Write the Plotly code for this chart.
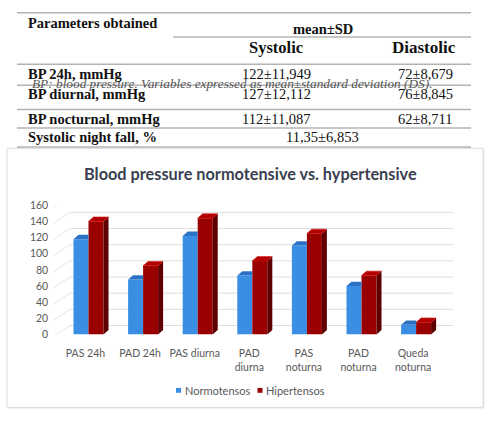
import plotly.graph_objects as go

# ---------------- data ----------------
categories = ["PAS 24h", "PAD 24h", "PAS diurna", "PAD<br>diurna", "PAS<br>noturna", "PAD<br>noturna", "Queda<br>noturna"]
normotensos = [118, 68, 122, 73, 110, 60, 12]
hipertensos = [140, 85, 144, 91, 125, 73, 15]
y_ticks = [0, 20, 40, 60, 80, 100, 120, 140, 160]

table_rows = ["BP 24h, mmHg", "BP diurnal, mmHg", "BP nocturnal, mmHg", "Systolic night fall, %"]
systolic_vals = ["122±11,949", "127±12,112", "112±11,087"]
diastolic_vals = ["72±8,679", "76±8,845", "62±8,711"]
night_fall_val = "11,35±6,853"
caption = "BP: blood pressure. Variables expressed as mean±standard deviation (DS)."

# ---------------- layout constants (pixels) ----------------
W, H = 494, 426
def px(x):
    return x / W
def py(y):
    return 1 - y / H

x_left, x_right = 61.2, 443.4          # x-axis domain in px
y_zero, y_top = 338.0, 205.0           # px of 0 and 160
cat_px = (x_right - x_left) / len(categories)
unit_px = (y_zero - y_top) / 160.0
bar_w = 15.0 / cat_px                  # bar width in category units
dx = 5.0 / cat_px                      # 3D depth in x units
dy = 4.5 / unit_px                     # 3D depth in y units

C_N_FRONT = "#3a8ee4"
C_N_TOP = "#2c72c4"
C_H_FRONT = "#990000"
C_H_TOP = "#b30000"
C_H_SIDE = "#5e0000"
GRAY = "#595959"

xs = list(range(len(categories)))

fig = go.Figure()
fig.add_trace(go.Bar(x=xs, y=normotensos, name="Normotensos", width=bar_w, offset=-bar_w,
                     marker=dict(color=C_N_FRONT, line=dict(width=0)), showlegend=False))
fig.add_trace(go.Bar(x=xs, y=hipertensos, name="Hipertensos", width=bar_w, offset=0,
                     marker=dict(color=C_H_FRONT, line=dict(width=0)), showlegend=False))

shapes = []
# chart box
shapes.append(dict(type="rect", xref="paper", yref="paper", x0=px(8.5), x1=px(484.5), y0=py(414.5), y1=py(148),
                   fillcolor="#ececec", line=dict(width=0), layer="below"))
shapes.append(dict(type="rect", xref="paper", yref="paper", x0=px(7), x1=px(483), y0=py(413), y1=py(146.5),
                   fillcolor="white", line=dict(color="#dcdcdc", width=1), layer="below"))

# back-wall gridlines (offset in pixels behind the bars)
for v in y_ticks:
    shapes.append(dict(type="line", xref="paper", yref="y", ysizemode="pixel", yanchor=v,
                       x0=px(70), x1=px(453), y0=9, y1=9,
                       line=dict(color="#dedede", width=1), layer="below"))
    shapes.append(dict(type="line", xref="paper", yref="y", ysizemode="pixel", yanchor=v,
                       x0=px(53), x1=px(70), y0=-2, y1=9,
                       line=dict(color="#e6e6e6", width=1), layer="below"))

# 3D faces of bars
for i, (vn, vh) in enumerate(zip(normotensos, hipertensos)):
    l, r = i - bar_w, i
    shapes.append(dict(type="path", xref="x", yref="y", layer="above",
                       path=f"M{l},{vn} L{l+dx},{vn+dy} L{r},{vn+dy} L{r},{vn} Z",
                       fillcolor=C_N_TOP, line=dict(width=0)))
    l, r = i, i + bar_w
    shapes.append(dict(type="path", xref="x", yref="y", layer="above",
                       path=f"M{r},0 L{r+dx},{dy} L{r+dx},{vh+dy} L{r},{vh} Z",
                       fillcolor=C_H_SIDE, line=dict(width=0)))
    shapes.append(dict(type="path", xref="x", yref="y", layer="above",
                       path=f"M{l},{vh} L{l+dx},{vh+dy} L{r+dx},{vh+dy} L{r},{vh} Z",
                       fillcolor=C_H_TOP, line=dict(color="#d01010", width=0.6)))

# legend squares
shapes.append(dict(type="rect", xref="paper", yref="paper", x0=px(176), x1=px(181), y0=py(398), y1=py(393),
                   fillcolor=C_N_FRONT, line=dict(width=0)))
shapes.append(dict(type="rect", xref="paper", yref="paper", x0=px(257.5), x1=px(262.5), y0=py(398), y1=py(393),
                   fillcolor=C_H_FRONT, line=dict(width=0)))

# table lines
LINE = dict(color="#b4b4b4", width=1.5)
for yy, x0 in [(7, 17), (32, 173), (60, 17), (81.5, 17), (106.5, 17), (125.5, 17), (145, 17)]:
    shapes.append(dict(type="line", xref="paper", yref="paper", x0=px(x0), x1=px(471), y0=py(yy), y1=py(yy),
                       line=LINE))

ann = []
SERIF = "Liberation Serif"
def txt(x, y, s, size=14.5, bold=False, italic=False, xanchor="center", color="#111111", family=SERIF):
    if bold:
        s = f"<b>{s}</b>"
    if italic:
        s = f"<i>{s}</i>"
    ann.append(dict(x=px(x), y=py(y), xref="paper", yref="paper", text=s, showarrow=False,
                    xanchor=xanchor, yanchor="middle", font=dict(family=family, size=size, color=color)))

txt(26, 17, "Parameters obtained", bold=True, xanchor="left")
txt(322.5, 24, "mean±SD", bold=True)
txt(275.5, 43, "Systolic", size=16.5, bold=True)
txt(424, 43, "Diastolic", size=17, bold=True)
row_y = [70, 91, 116, 134.5]
for lbl, yy in zip(table_rows, row_y):
    txt(26, yy, lbl, bold=True, xanchor="left")
for v, yy in zip(systolic_vals, row_y):
    txt(276.5, yy, v)
for v, yy in zip(diastolic_vals, row_y):
    txt(425, yy, v, size=14.5)
txt(322, row_y[3], night_fall_val)
txt(30, 79.5, caption, size=13.3, italic=True, xanchor="left", color="#555555")

SANS = "Lato"
ann.append(dict(x=px(250), y=py(172), xref="paper", yref="paper", showarrow=False, xanchor="center", yanchor="middle",
                text="<b>Blood pressure normotensive vs. hypertensive</b>",
                font=dict(family=SANS, size=16.3, color="#3a3f4f")))
ann.append(dict(x=px(182.5), y=py(395.5), xref="paper", yref="paper", showarrow=False, xanchor="left", yanchor="middle",
                text="Normotensos", font=dict(family=SANS, size=11, color=GRAY)))
ann.append(dict(x=px(264), y=py(395.5), xref="paper", yref="paper", showarrow=False, xanchor="left", yanchor="middle",
                text="Hipertensos", font=dict(family=SANS, size=11, color=GRAY)))

fig.update_layout(
    width=W, height=H, margin=dict(l=0, r=0, t=0, b=0),
    paper_bgcolor="white", plot_bgcolor="rgba(0,0,0,0)",
    barmode="overlay", showlegend=False,
    shapes=shapes, annotations=ann,
    xaxis=dict(domain=[px(x_left), px(x_right)], range=[-0.5, len(categories) - 0.5],
               tickvals=xs, ticktext=categories, showgrid=False, zeroline=False, showline=False,
               ticks="", tickfont=dict(family=SANS, size=10.5, color=GRAY), ticklabelshift=-3,
               ticklabelstandoff=11, fixedrange=True),
    yaxis=dict(domain=[py(y_zero), py(y_top)], range=[0, 160], tickvals=y_ticks,
               showgrid=False, zeroline=False, showline=False, ticks="",
               tickfont=dict(family=SANS, size=10.5, color=GRAY), ticklabelstandoff=12, fixedrange=True),
)

fig.write_html("out.html")
